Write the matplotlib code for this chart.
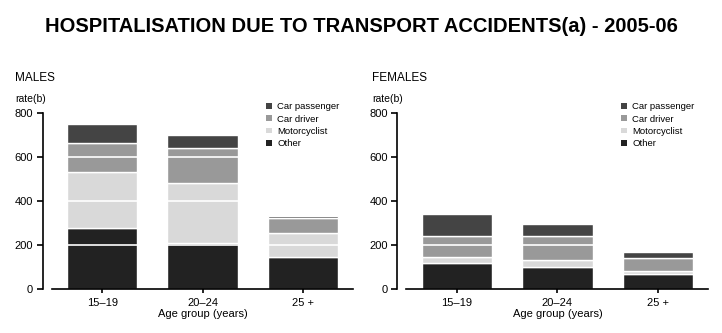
import matplotlib
matplotlib.use("Agg")
import matplotlib.pyplot as plt
import numpy as np

age_groups = ["15\u201319", "20\u201324", "25 +"]
series_names = ["Other", "Motorcyclist", "Car driver", "Car passenger"]
colors = ["#222222", "#d9d9d9", "#999999", "#444444"]

# rates per 100,000
males_other = [279, 210, 148]
males_motorcyclist = [254, 270, 106]
males_car_driver = [131, 158, 69]
males_car_passenger = [82, 62, 11]

females_other = [121, 103, 69]
females_motorcyclist = [27, 30, 16]
females_car_driver = [95, 107, 58]
females_car_passenger = [97, 55, 28]

yticks = [0, 200, 400, 600, 800]

matplotlib.rcParams['font.family'] = ['Liberation Sans', 'DejaVu Sans']
matplotlib.rcParams['font.size'] = 8


def draw_panel(ax, series):
    x = np.arange(len(age_groups))
    bottom = np.zeros(len(age_groups))
    handles = []
    for name, vals, col in zip(series_names, series, colors):
        b = ax.bar(x, vals, width=0.7, bottom=bottom, color=col, edgecolor="white",
                   linewidth=1.0, label=name, zorder=2)
        handles.append(b)
        bottom = bottom + np.array(vals)
    for y in yticks[1:-1]:
        ax.axhline(y, color="white", linewidth=1.2, zorder=3)

    ax.set_xlim(-0.5, 2.5)
    ax.set_ylim(0, 800)
    ax.set_xticks(x)
    ax.set_xticklabels(age_groups, fontsize=8)
    ax.set_yticks(yticks)
    ax.tick_params(axis="y", length=4, width=1.2, pad=3, labelsize=8)
    ax.tick_params(axis="x", length=3, width=1.2, pad=3)
    ax.spines["top"].set_visible(False)
    ax.spines["right"].set_visible(False)
    ax.spines["left"].set_position(("outward", 6.5))
    ax.spines["left"].set_linewidth(1.2)
    ax.spines["bottom"].set_linewidth(1.2)
    ax.set_xlabel("Age group (years)", fontsize=8, labelpad=1)

    # legend in reverse stack order, as in the original
    leg = ax.legend(handles[::-1], series_names[::-1], loc="upper left",
                    bbox_to_anchor=(0.712, 1.058), frameon=False, fontsize=6.8,
                    handlelength=0.55, handleheight=0.55, handletextpad=0.6,
                    labelspacing=0.35, borderaxespad=0, borderpad=0)
    for h in leg.legend_handles:
        h.set_edgecolor("none")


fig = plt.figure(figsize=(7.22, 3.33), dpi=100)
ax_m = fig.add_axes([0.072, 0.131, 0.417, 0.531])
ax_f = fig.add_axes([0.563, 0.131, 0.418, 0.531])

draw_panel(ax_m, [males_other, males_motorcyclist, males_car_driver, males_car_passenger])
draw_panel(ax_f, [females_other, females_motorcyclist, females_car_driver, females_car_passenger])

fig.text(0.5, 1 - 27 / 333, "HOSPITALISATION DUE TO TRANSPORT ACCIDENTS(a) - 2005-06",
         ha="center", va="center", fontsize=14.5, fontweight="bold")
fig.text(15 / 722, 1 - 78 / 333, "MALES", ha="left", va="center", fontsize=8.5)
fig.text(15 / 722, 1 - 99 / 333, "rate(b)", ha="left", va="center", fontsize=7.5)
fig.text(372 / 722, 1 - 78 / 333, "FEMALES", ha="left", va="center", fontsize=8.5)
fig.text(372 / 722, 1 - 99 / 333, "rate(b)", ha="left", va="center", fontsize=7.5)

fig.savefig("out.png", dpi=100)
